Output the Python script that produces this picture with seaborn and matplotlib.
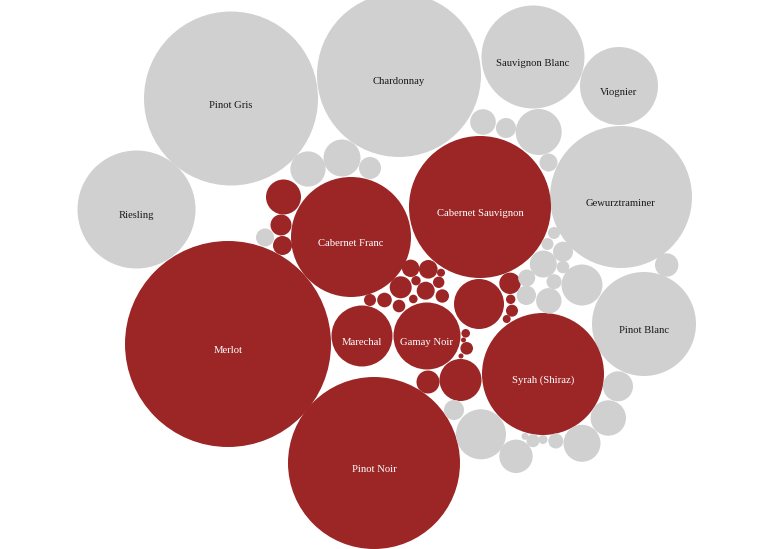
import matplotlib
matplotlib.use("Agg")
import matplotlib.pyplot as plt
import seaborn as sns
import pandas as pd
import numpy as np

# ---- data: wine varieties (label, colour group, bubble radius in px) ----
labels = ["Pinot Gris", "Chardonnay", "Sauvignon Blanc", "Viognier", "Gewurztraminer",
          "Riesling", "Pinot Blanc",
          "Merlot", "Pinot Noir", "Cabernet Sauvignon", "Cabernet Franc",
          "Syrah (Shiraz)", "Gamay Noir", "Marechal"]
label_group = ["white"] * 7 + ["red"] * 7
label_radius = [87, 82, 51.5, 39, 71, 59, 52,
                103, 86, 71, 60, 61, 33.5, 30.5]
# packed layout (centres) of the labelled bubbles
label_cx = [231, 399, 533, 619, 621, 136.5, 644,
            228, 374, 480, 351, 543, 427, 362]
label_cy = [98.5, 75, 57, 86, 197, 209.5, 324,
            344, 463, 207, 237, 374, 336, 336]

# unlabelled small red varieties
red_radius = [8.7, 9.3, 4, 11, 4.7, 5.7, 9, 6.7, 4.3, 6.3, 7.3, 6, 25, 10.7, 4.7, 6, 4,
              4.3, 6.3, 2.5, 2.5, 11.5, 21, 17.5, 10.5, 9.5]
red_cx = [410.7, 428.3, 441, 400.7, 416, 438.7, 425.7, 442.3, 413.3, 399, 384.5, 370,
          479, 510, 510.7, 512, 506.7, 465.7, 466.7, 463.5, 461, 428, 460.5, 283.5, 281, 282.5]
red_cy = [268.3, 269.3, 272.7, 287.3, 280.7, 282.3, 290.7, 296, 299, 306, 300, 300,
          304, 283.3, 299.3, 310.7, 319, 333.3, 348.3, 340, 356, 382, 380, 197, 225, 245.5]

# unlabelled small white varieties
white_radius = [17.6, 18.5, 11, 9, 12.8, 10, 23, 9, 6, 6, 10, 13.5, 6.3, 20.5, 11.7,
                8.5, 7.5, 9.7, 12.7, 10, 25, 16.7, 3.5, 6.5, 4.5, 7.5, 18.5, 17.7, 15]
white_cx = [308, 342, 370, 265, 483, 506, 538.7, 548.5, 554, 547.5, 563, 543.3, 563, 582,
            666.7, 526.7, 554, 526.3, 548.8, 454, 481, 516, 525, 533, 543, 555.8, 582,
            608.3, 618]
white_cy = [169, 158, 168, 237.5, 122, 128, 132, 162.5, 233, 244, 251.7, 264, 267, 285,
            265, 278, 281.7, 295.3, 300.8, 410, 434.3, 456.3, 436.3, 440.7, 439.5, 441,
            443.3, 418, 386.3]

# ---- build table ----
df = pd.concat([
    pd.DataFrame({"name": labels, "group": label_group, "r": label_radius,
                  "x": label_cx, "y": label_cy}),
    pd.DataFrame({"name": "", "group": "red", "r": red_radius, "x": red_cx, "y": red_cy}),
    pd.DataFrame({"name": "", "group": "white", "r": white_radius, "x": white_cx, "y": white_cy}),
], ignore_index=True)

W, H, DPI = 774, 549, 100
fig = plt.figure(figsize=(W / DPI, H / DPI), dpi=DPI)
ax = fig.add_axes([0, 0, 1, 1])
ax.set_xlim(0, W)
ax.set_ylim(H, 0)
ax.set_aspect("equal")
ax.axis("off")

palette = {"red": "#9c2526", "white": "#d0d0d0"}
pt_per_px = 72.0 / DPI
sizes = (2 * df["r"] * pt_per_px) ** 2

sns.scatterplot(data=df, x="x", y="y", hue="group", palette=palette, s=sizes,
                linewidth=0, marker="o", legend=False, ax=ax, zorder=2)

for _, row in df[df["name"] != ""].iterrows():
    color = "white" if row["group"] == "red" else "#1a1a1a"
    ax.text(row["x"], row["y"] + 6.5, row["name"], ha="center", va="center",
            fontsize=7.7, family="Liberation Serif", color=color, zorder=3)

fig.savefig("out.png", dpi=DPI, facecolor="white")
